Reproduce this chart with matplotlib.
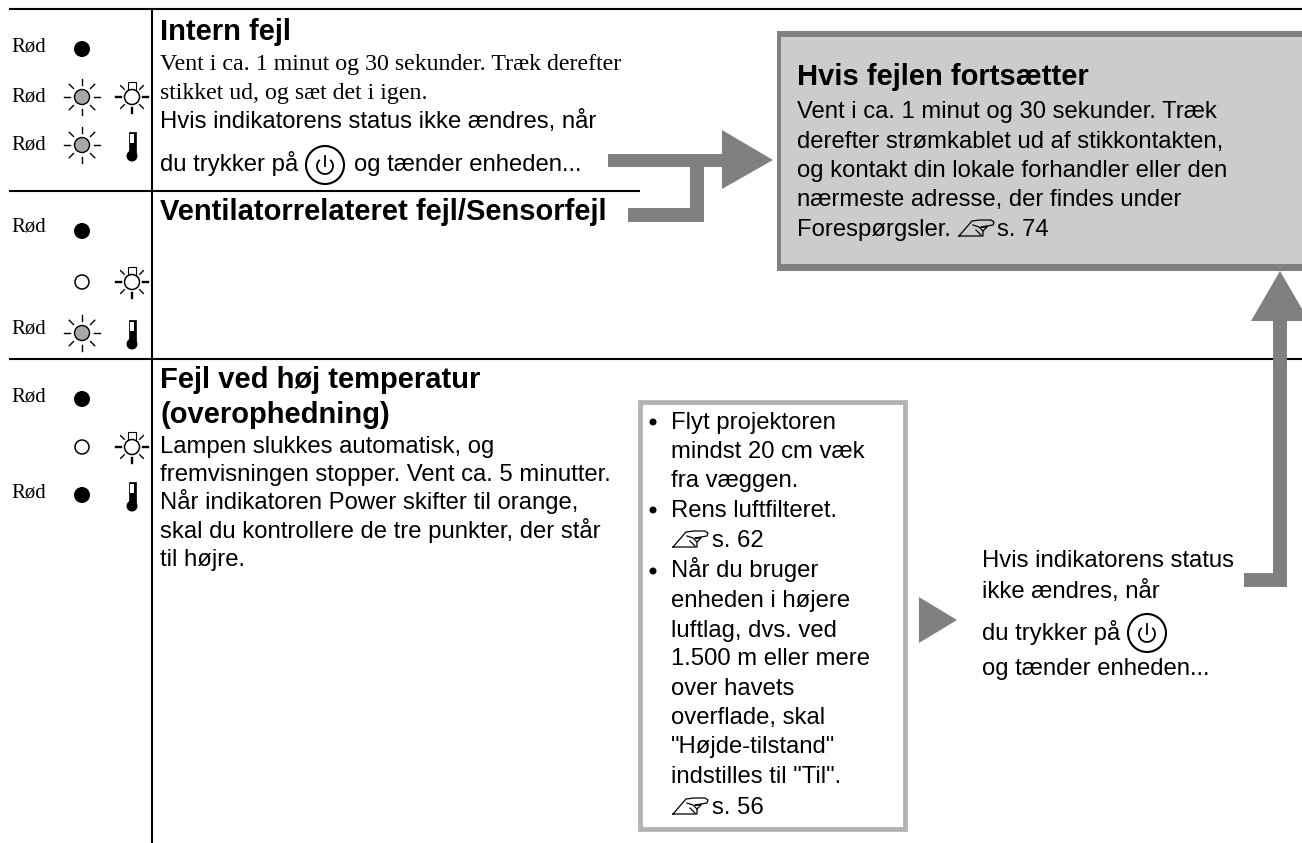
"""
Fejlindikator-side: tabel med lamper, tekster og grå pile.
Alt tegnes i pixelkoordinater (1302x843).
"""

import numpy as np
import matplotlib
matplotlib.use('Agg')
import matplotlib.pyplot as plt
from matplotlib.patches import Circle, Polygon, Rectangle, Arc

# ---- tekster ----
RED_LABEL = 'Rød'
HEAD_1 = 'Intern fejl'
HEAD_2 = 'Ventilatorrelateret fejl/Sensorfejl'
HEAD_3 = ['Fejl ved høj temperatur', '(overophedning)']
HEAD_BOX = 'Hvis fejlen fortsætter'

INTERN_SERIF = ['Vent i ca. 1 minut og 30 sekunder. Træk derefter',
                'stikket ud, og sæt det i igen.']
INTERN_SANS = ['Hvis indikatorens status ikke ændres, når', 'du trykker på']
POWER_TAIL = 'og tænder enheden...'
TEMP_LINES = ['Lampen slukkes automatisk, og',
              'fremvisningen stopper. Vent ca. 5 minutter.',
              'Når indikatoren Power skifter til orange,',
              'skal du kontrollere de tre punkter, der står',
              'til højre.']
BOX_LINES = ['Vent i ca. 1 minut og 30 sekunder. Træk',
             'derefter strømkablet ud af stikkontakten,',
             'og kontakt din lokale forhandler eller den',
             'nærmeste adresse, der findes under',
             'Forespørgsler.']
BOX_REF = 's. 74'
CHECK_LINES = ['Flyt projektoren', 'mindst 20 cm væk', 'fra væggen.',
               'Rens luftfilteret.', 's. 62', 'Når du bruger',
               'enheden i højere', 'luftlag, dvs. ved', '1.500 m eller mere',
               'over havets', 'overflade, skal', '"Højde-tilstand"',
               'indstilles til "Til".', 's. 56']
RIGHT_LINES = ['Hvis indikatorens status', 'ikke ændres, når',
               'du trykker på', 'og tænder enheden...']

# ---- lamper: (etiket, venstre lampe, højre ikon) ----
LAMP_LABELS = [RED_LABEL, RED_LABEL, RED_LABEL, RED_LABEL, '', RED_LABEL, RED_LABEL, '', RED_LABEL]
LAMP_LEFT = ['on', 'blink', 'blink', 'on', 'off', 'blink', 'on', 'off', 'on']
LAMP_RIGHT = ['', 'lamp', 'temp', '', 'lamp', 'temp', '', 'lamp', 'temp']

# ---- placeringer ----
LAMP_Y = [49, 97, 145, 231, 282, 333, 399, 447, 495]
LABEL_Y = [52, 101, 150, 232, 0, 334, 402, 0, 498]
INTERN_SERIF_Y = [70, 99]
INTERN_SANS_Y = [128, 171]
TEMP_Y = [453, 481, 509, 538, 566]
BOX_Y = [118, 148, 177, 206, 236]
CHECK_Y = [429, 458, 487, 517, 547, 577, 607, 637, 665, 695, 724, 753, 783, 814]
BULLET_Y = [422, 510, 571]
RIGHT_Y = [567, 598, 640, 675]

GRAY = '#808080'
SANS = 'Liberation Sans'
SERIF = 'Liberation Serif'
FS_BODY = 17.2
FS_HEAD = 21.0


def blink(ax, x, y):
    ax.add_patch(Circle((x, y), 7.5, fc='#a8a8a8', ec='black', lw=1.0, zorder=3))
    for a in np.arange(0, 360, 45):
        c, s = np.cos(np.radians(a)), np.sin(np.radians(a))
        ax.plot([x + 12 * c, x + 18 * c], [y + 12 * s, y + 18 * s], color='black', lw=1.0)


def lamp(ax, x, y):
    ax.add_patch(Rectangle((x - 4, y - 15), 8, 8, fc='white', ec='black', lw=0.8, zorder=2))
    ax.add_patch(Circle((x, y), 7.5, fc='white', ec='black', lw=1.1, zorder=3))
    for a in [0, 45, 90, 135, 180, 225, 315]:
        c, s = np.cos(np.radians(a)), np.sin(np.radians(a))
        ax.plot([x + 11 * c, x + 16 * c], [y + 11 * s, y + 16 * s], color='black',
                lw=1.7 if a % 90 == 0 else 1.0)


def thermometer(ax, x, y):
    ax.add_patch(Rectangle((x - 3.5, y - 16), 7, 24, fc='black', ec='black', lw=0.5))
    ax.add_patch(Rectangle((x - 2, y - 14), 4, 9, fc='white', ec='none', zorder=3))
    ax.add_patch(Circle((x, y + 8), 5.5, fc='black', ec='none'))


def power_icon(ax, x, y):
    ax.add_patch(Circle((x, y), 19, fc='none', ec='black', lw=1.5))
    ax.add_patch(Arc((x, y + 1), 16, 16, theta1=-50, theta2=230, ec='black', lw=1.3))
    ax.plot([x, x], [y - 9, y + 1], color='black', lw=1.3)


def hand(ax, x, y):
    # lille pegende hånd, x/y er nederste venstre hjørne
    xs = [0, 24, 24, 28, 22, 34, 35, 32, 21, 13, 0]
    ys = [0, 0, -5, -9, -9, -11, -14, -16, -16, -15, 0]
    ax.plot(np.array(xs) + x, np.array(ys) + y, color='black', lw=0.9)
    ax.plot([x + 14, x + 20, x + 24], [y - 11, y - 9, y - 5], color='black', lw=0.9)
    ax.plot([x + 17, x + 22], [y - 6, y - 1], color='black', lw=0.9)


def text(ax, x, y, s, fs=FS_BODY, family=SANS, weight='normal'):
    ax.text(x, y, s, fontsize=fs, family=family, fontweight=weight, ha='left',
            va='baseline', color='black', zorder=5)


def main():
    fig = plt.figure(figsize=(13.02, 8.43), dpi=100)
    ax = fig.add_axes([0, 0, 1, 1])
    ax.set_xlim(0, 1302)
    ax.set_ylim(843, 0)
    ax.axis('off')

    # tabel-linjer
    ax.plot([9, 1302], [9, 9], color='black', lw=1.5, solid_capstyle='butt')
    ax.plot([152, 152], [9, 843], color='black', lw=1.5, solid_capstyle='butt')
    ax.plot([9, 640], [191, 191], color='black', lw=1.5, solid_capstyle='butt')
    ax.plot([9, 1302], [359, 359], color='black', lw=1.5, solid_capstyle='butt')

    # lamper
    for lab, left, right, y, ly in zip(LAMP_LABELS, LAMP_LEFT, LAMP_RIGHT, LAMP_Y, LABEL_Y):
        if lab:
            text(ax, 11, ly, lab, fs=15, family=SERIF)
        if left == 'on':
            ax.add_patch(Circle((82, y), 8, fc='black', ec='none'))
        elif left == 'off':
            ax.add_patch(Circle((82, y), 7, fc='white', ec='black', lw=1.1))
        else:
            blink(ax, 82, y)
        if right == 'lamp':
            lamp(ax, 132, y)
        elif right == 'temp':
            thermometer(ax, 132, y + 3)

    # venstre tekster
    text(ax, 160, 40, HEAD_1, fs=FS_HEAD, weight='bold')
    for s, y in zip(INTERN_SERIF, INTERN_SERIF_Y):
        text(ax, 160, y, s, family=SERIF)
    for s, y in zip(INTERN_SANS, INTERN_SANS_Y):
        text(ax, 160, y, s)
    power_icon(ax, 325, 165)
    text(ax, 354, 171, POWER_TAIL)
    text(ax, 160, 220, HEAD_2, fs=FS_HEAD, weight='bold')
    text(ax, 160, 388, HEAD_3[0], fs=FS_HEAD, weight='bold')
    text(ax, 160, 423, HEAD_3[1], fs=FS_HEAD, weight='bold')
    for s, y in zip(TEMP_LINES, TEMP_Y):
        text(ax, 160, y, s)

    # grå boks
    ax.add_patch(Rectangle((777, 31), 540, 240, fc=GRAY, ec='none', zorder=1))
    ax.add_patch(Rectangle((781, 37), 530, 227, fc='#cccccc', ec='none', zorder=1))
    text(ax, 797, 85, HEAD_BOX, fs=FS_HEAD, weight='bold')
    for s, y in zip(BOX_LINES, BOX_Y):
        text(ax, 797, y, s)
    hand(ax, 959, 236)
    text(ax, 997, 236, BOX_REF)

    # pile
    ax.add_patch(Polygon([(722, 130), (773, 160), (722, 189)], fc=GRAY, ec='none'))
    ax.add_patch(Rectangle((608, 154), 114, 13, fc=GRAY, ec='none'))
    ax.add_patch(Rectangle((690, 167), 14, 55, fc=GRAY, ec='none'))
    ax.add_patch(Rectangle((628, 208), 76, 14, fc=GRAY, ec='none'))
    ax.add_patch(Polygon([(1251, 321), (1280, 271), (1309, 321)], fc=GRAY, ec='none', zorder=3))
    ax.add_patch(Rectangle((1273, 321), 14, 266, fc=GRAY, ec='none', zorder=3))
    ax.add_patch(Rectangle((1244, 573), 43, 14, fc=GRAY, ec='none', zorder=3))
    ax.add_patch(Polygon([(919, 597), (957, 620), (919, 643)], fc=GRAY, ec='none'))

    # hvid boks med punkter
    ax.add_patch(Rectangle((640, 402), 265, 427, fc='white', ec='#b2b2b2', lw=3.4))
    for s, y in zip(CHECK_LINES, CHECK_Y):
        if s.startswith('s.'):
            hand(ax, 673, y)
            text(ax, 712, y, s)
        else:
            text(ax, 671, y, s)
    for y in BULLET_Y:
        ax.add_patch(Circle((653, y), 3.5, fc='black', ec='none'))

    # højre tekst
    for s, y in zip(RIGHT_LINES, RIGHT_Y):
        text(ax, 982, y, s)
    power_icon(ax, 1147, 633)

    fig.savefig('out.png', dpi=100, facecolor='white')
    plt.close(fig)


if __name__ == '__main__':
    main()
